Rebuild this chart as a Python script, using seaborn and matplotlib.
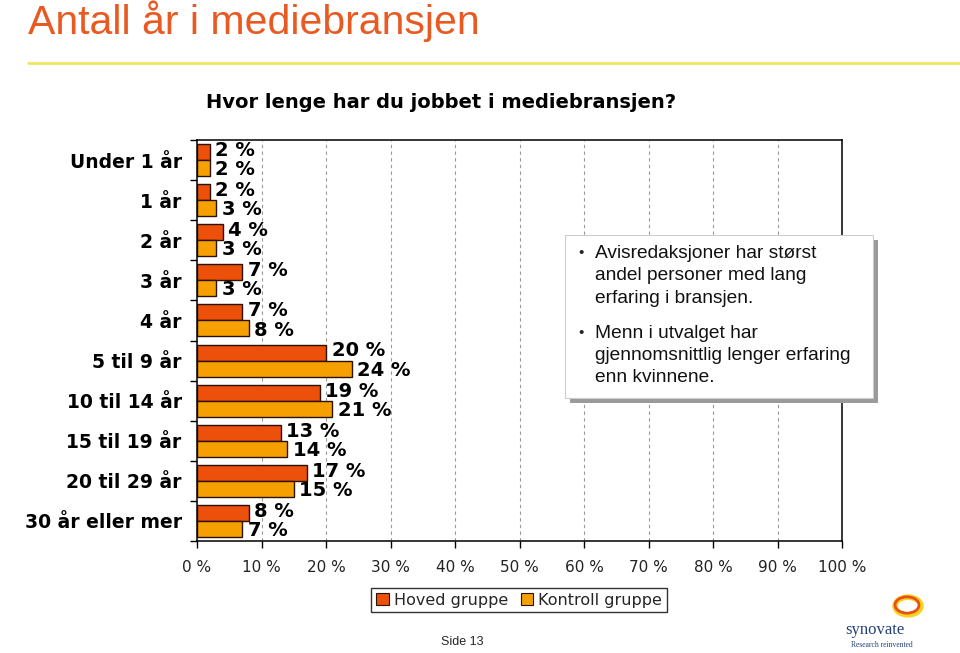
import numpy as np
import pandas as pd
import matplotlib
matplotlib.use("Agg")
import matplotlib.pyplot as plt
from matplotlib.patches import Rectangle, Circle
from matplotlib.lines import Line2D
import seaborn as sns

# ---------------------------------------------------------------------------
# Data
# ---------------------------------------------------------------------------
CATEGORIES = ["Under 1 år", "1 år", "2 år", "3 år", "4 år", "5 til 9 år",
              "10 til 14 år", "15 til 19 år", "20 til 29 år", "30 år eller mer"]
HOVED      = [2, 2, 4, 7, 7, 20, 19, 13, 17, 8]
KONTROLL   = [2, 3, 3, 3, 8, 24, 21, 14, 15, 7]
GROUPS     = ["Hoved gruppe", "Kontroll gruppe"]
X_TICKS    = [0, 10, 20, 30, 40, 50, 60, 70, 80, 90, 100]

COLORS = {"Hoved gruppe": "#EC500A", "Kontroll gruppe": "#F5A000"}

df = pd.DataFrame({
    "kategori": CATEGORIES * 2,
    "gruppe": [GROUPS[0]] * len(CATEGORIES) + [GROUPS[1]] * len(CATEGORIES),
    "verdi": HOVED + KONTROLL,
})

# ---------------------------------------------------------------------------
# Figure
# ---------------------------------------------------------------------------
sns.set_theme(style="white")
plt.rcParams["font.family"] = ["DejaVu Sans"]

W, H = 960, 653
fig = plt.figure(figsize=(W / 100, H / 100), dpi=100)
fig.patch.set_facecolor("white")


def fx(px):
    return px / W


def fy(py):
    return 1 - py / H


ax = fig.add_axes([fx(197), fy(541), fx(842) - fx(197), fy(140) - fy(541)])

sns.barplot(data=df, y="kategori", x="verdi", hue="gruppe", orient="h",
            palette=COLORS, hue_order=GROUPS, order=CATEGORIES, saturation=1,
            width=0.8, edgecolor="#2a1200", linewidth=1.0, ax=ax, legend=False)

# value labels; nudge the pair apart a little, as in the original
for cont, dy in zip(ax.containers, [-0.04, 0.04]):
    for b in cont:
        v = b.get_width()
        ax.annotate(f"{int(round(v))} %", (v, b.get_y() + b.get_height() / 2 + dy),
                    xytext=(4, 0), textcoords="offset points",
                    ha="left", va="center", fontsize=14, fontweight="bold",
                    color="black")

ax.set_xlim(0, 100)
ax.set_ylim(len(CATEGORIES) - 0.5, -0.5)
ax.set_xticks(X_TICKS)
ax.set_xticklabels([f"{t} %" for t in X_TICKS], fontsize=11, color="#222222")
ax.tick_params(axis="x", direction="out", length=5, width=1, color="black",
               bottom=True, pad=9)
ax.set_yticks(range(len(CATEGORIES)))
ax.set_yticklabels(CATEGORIES, fontsize=13.5, fontweight="bold", color="black")
ax.tick_params(axis="y", length=0, pad=11)
ax.set_yticks(np.arange(-0.5, len(CATEGORIES), 1), minor=True)
ax.tick_params(axis="y", which="minor", direction="out", length=5, width=1,
               color="black", left=True)
ax.set_xlabel("")
ax.set_ylabel("")

for t in X_TICKS[1:-1]:
    ax.axvline(t, color="#999999", lw=0.8, ls=(0, (3, 3)), zorder=0)
for side in ["top", "right", "left", "bottom"]:
    ax.spines[side].set_visible(True)
    ax.spines[side].set_color("black")
    ax.spines[side].set_linewidth(1.1)

# chart title
fig.text(fx(441), fy(103), "Hvor lenge har du jobbet i mediebransjen?",
         ha="center", va="center", fontsize=14, fontweight="bold", color="black")

# slide title and rule
fig.text(fx(28), fy(34), "Antall år i mediebransjen", ha="left", va="baseline",
         fontsize=29.5, color="#E85A22", family="Liberation Sans")
fig.add_artist(Line2D([fx(28), fx(960)], [fy(63), fy(63)], color="#EEE660",
                      lw=2, transform=fig.transFigure))

# text box with shadow
fig.add_artist(Rectangle((fx(570), fy(403)), fx(873) - fx(565), fy(235) - fy(398),
                         transform=fig.transFigure, facecolor="#9a9a9a",
                         edgecolor="none", zorder=5))
fig.add_artist(Rectangle((fx(565), fy(398)), fx(873) - fx(565), fy(235) - fy(398),
                         transform=fig.transFigure, facecolor="white",
                         edgecolor="#cccccc", lw=0.8, zorder=6))
bullets = [
    ["Avisredaksjoner har størst", "andel personer med lang", "erfaring i bransjen."],
    ["Menn i utvalget har", "gjennomsnittlig lenger erfaring", "enn kvinnene."],
]
starts = [253, 333]
for lines, y0 in zip(bullets, starts):
    fig.text(fx(578), fy(y0), "•", ha="left", va="center", fontsize=11,
             family="Liberation Sans", zorder=7)
    for i, line in enumerate(lines):
        fig.text(fx(595), fy(y0 + i * 22.5), line, ha="left", va="center",
                 fontsize=13.8, family="Liberation Sans", color="#111111", zorder=7)

# legend
handles = [Rectangle((0, 0), 1, 1, facecolor=COLORS[g], edgecolor="#2a1200", lw=0.8)
           for g in GROUPS]
leg = fig.legend(handles, GROUPS, loc="center", bbox_to_anchor=(fx(519), fy(600)),
                 ncol=2, frameon=True, fancybox=False, fontsize=11.5,
                 handlelength=0.8, handleheight=0.8, handletextpad=0.3,
                 columnspacing=0.8, borderpad=0.3)
leg.get_frame().set_edgecolor("black")
leg.get_frame().set_linewidth(1)

# footer
fig.text(fx(462), fy(642), "Side 13", ha="center", va="center", fontsize=9,
         family="Liberation Sans")

# logo
fig.add_artist(Circle((fx(908), fy(606)), 0.0135, transform=fig.transFigure,
                      facecolor="none", edgecolor="#F7D21E", lw=4))
fig.add_artist(Circle((fx(907), fy(605)), 0.0125, transform=fig.transFigure,
                      facecolor="none", edgecolor="#E8501A", lw=2))
fig.text(fx(875), fy(630), "synovate", ha="center", va="center", fontsize=12,
         color="#24407A", family="Liberation Serif")
fig.text(fx(882), fy(645), "Research reinvented", ha="center", va="center",
         fontsize=5.5, color="#24407A", family="Liberation Serif")

fig.savefig("out.png", dpi=100)
